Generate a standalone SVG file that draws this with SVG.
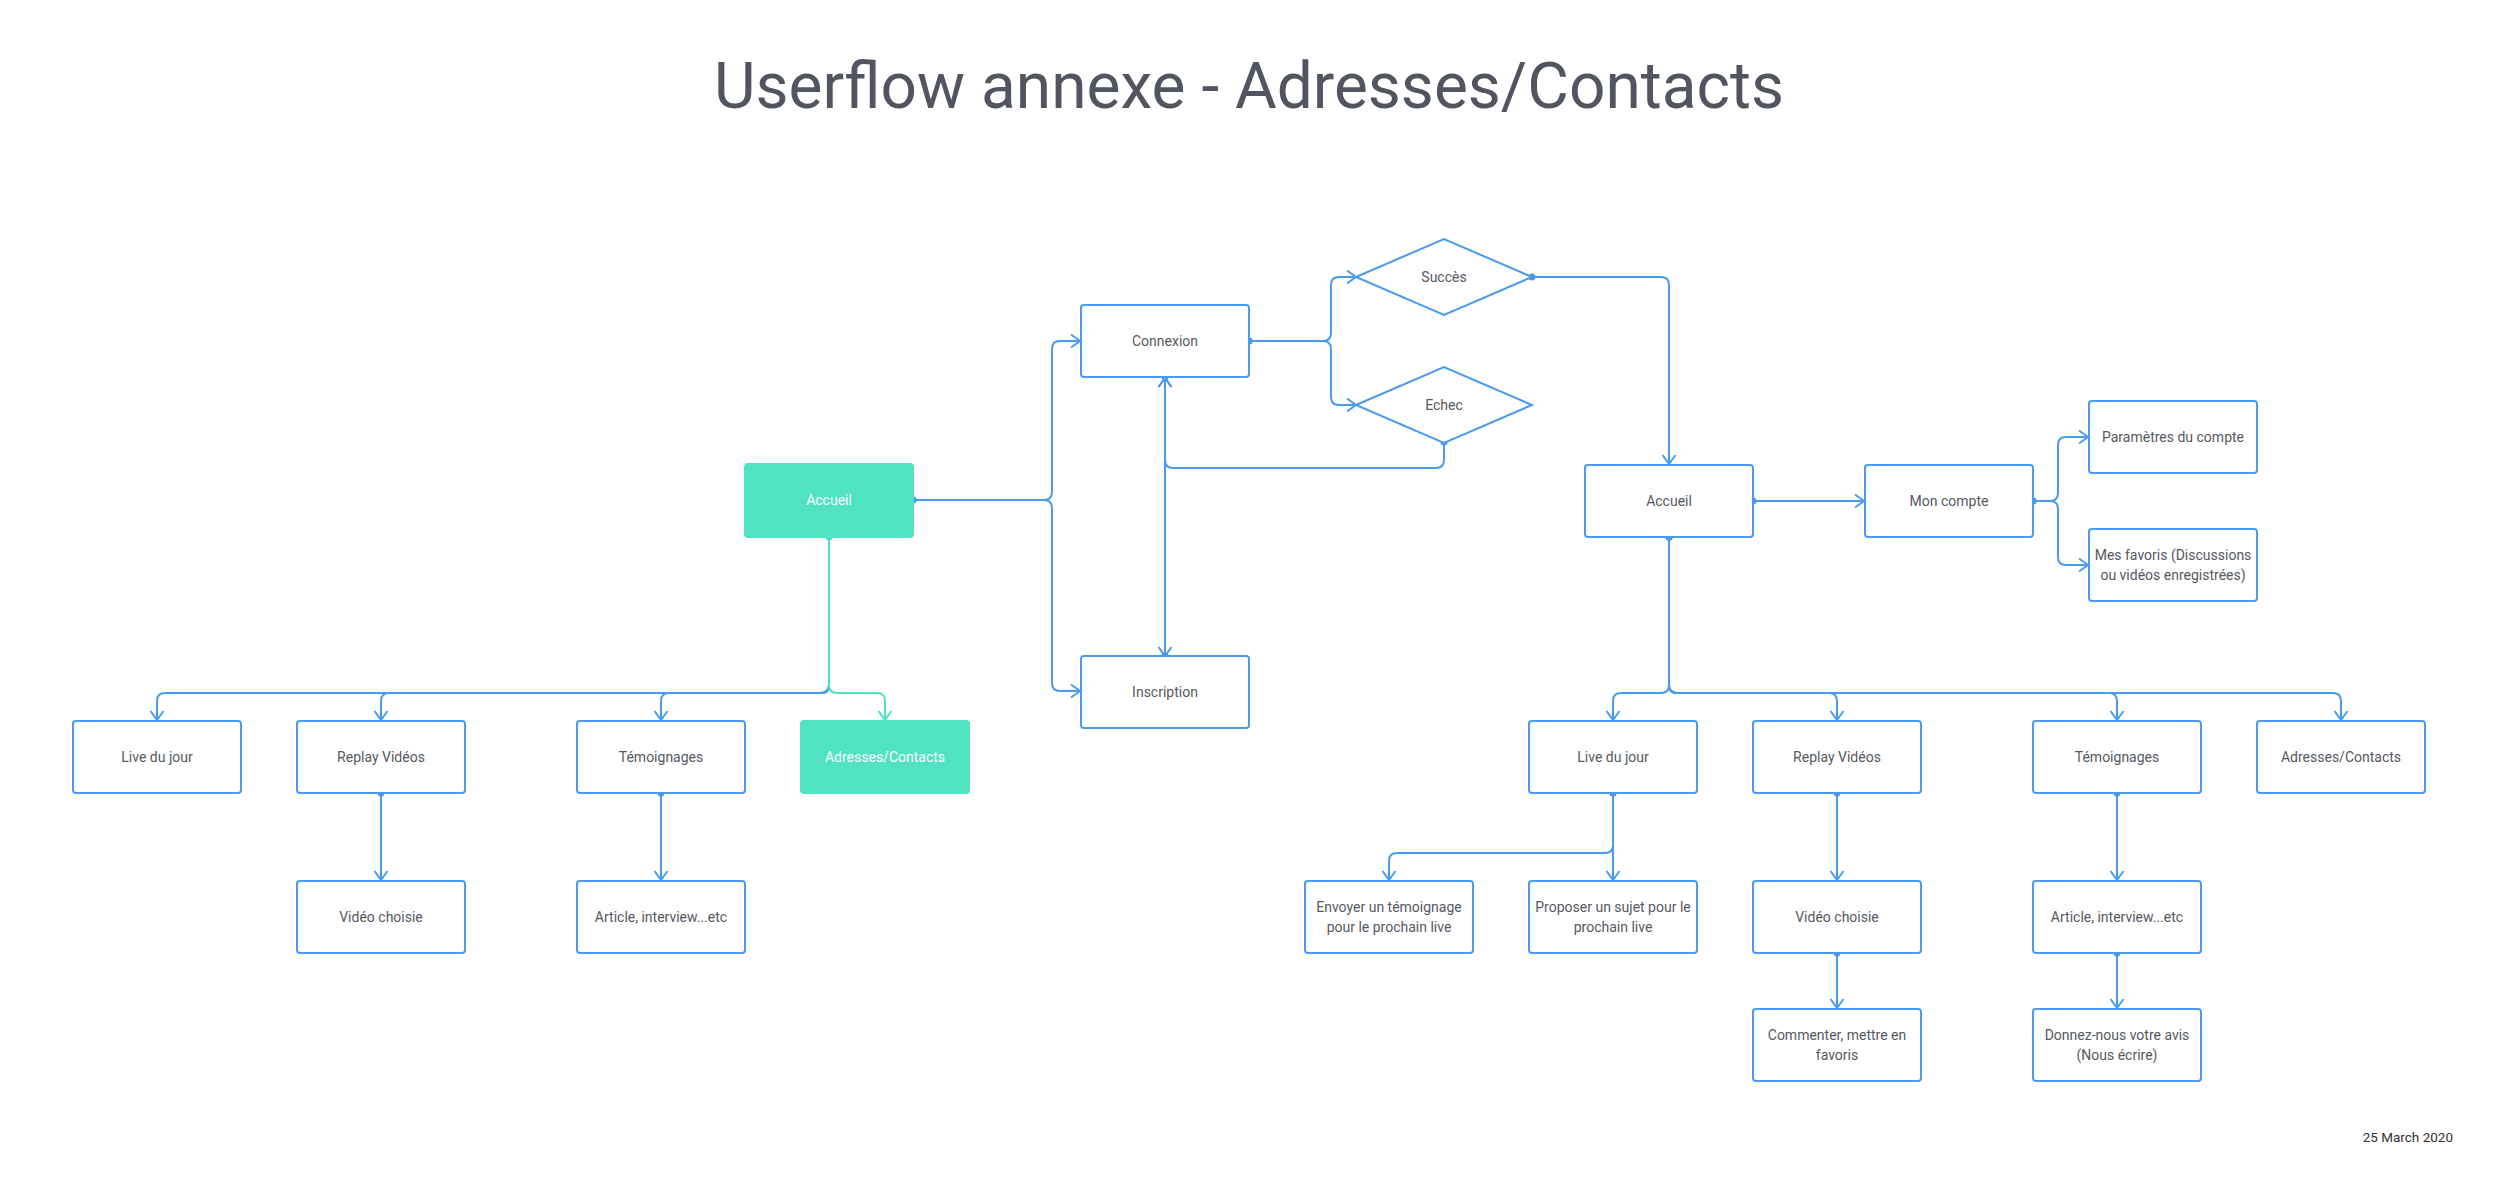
<svg xmlns="http://www.w3.org/2000/svg" width="2498" height="1202" viewBox="0 0 2498 1202">
<style>
.box{fill:#ffffff;stroke:#4A9BEF;stroke-width:2}
.teal{fill:#50E3C2;stroke:#50E3C2;stroke-width:2}
.t{font-family:Roboto,"Liberation Sans",sans-serif;font-size:14px;fill:#55595f;text-anchor:middle}
.w{fill:#ffffff}
.c{fill:none;stroke:#4A9BEF;stroke-width:2;marker-start:url(#dot);marker-end:url(#arr)}
.cn{fill:none;stroke:#4A9BEF;stroke-width:2;marker-end:url(#arr)}
.ct{fill:none;stroke:#50E3C2;stroke-width:2;marker-start:url(#dott);marker-end:url(#arrt)}
</style>
<defs>
<marker id="arr" markerUnits="userSpaceOnUse" markerWidth="20" markerHeight="20" refX="0" refY="0" viewBox="-12 -10 14 20" orient="auto" overflow="visible"><path d="M-9,-6.5 L0,0 L-9,6.5" fill="none" stroke="#4A9BEF" stroke-width="2"/></marker>
<marker id="arrt" markerUnits="userSpaceOnUse" markerWidth="20" markerHeight="20" refX="0" refY="0" viewBox="-12 -10 14 20" orient="auto" overflow="visible"><path d="M-9,-6.5 L0,0 L-9,6.5" fill="none" stroke="#50E3C2" stroke-width="2"/></marker>
<marker id="dot" markerUnits="userSpaceOnUse" markerWidth="10" markerHeight="10" refX="0" refY="0" viewBox="-5 -5 10 10" overflow="visible"><circle r="3.5" fill="#4A9BEF"/></marker>
<marker id="dott" markerUnits="userSpaceOnUse" markerWidth="10" markerHeight="10" refX="0" refY="0" viewBox="-5 -5 10 10" overflow="visible"><circle r="3.5" fill="#50E3C2"/></marker>
</defs>
<rect width="2498" height="1202" fill="#ffffff"/>
<text x="1249" y="108" style="font-family:Roboto,'Liberation Sans',sans-serif;font-size:64px;fill:#50555f;text-anchor:middle">Userflow annexe - Adresses/Contacts</text>
<text x="2453" y="1142" style="font-family:Roboto,'Liberation Sans',sans-serif;font-size:13.5px;fill:#333333;text-anchor:end">25 March 2020</text>

<g id="connectors">
<path class="c" d="M913,500 H1044 Q1052,500 1052,492 V349 Q1052,341 1060,341 H1080"/>
<path class="c" d="M913,500 H1044 Q1052,500 1052,508 V683 Q1052,691 1060,691 H1080"/>
<path class="c" d="M1249,341 H1323 Q1331,341 1331,333 V285 Q1331,277 1339,277 H1356"/>
<path class="c" d="M1249,341 H1323 Q1331,341 1331,349 V397 Q1331,405 1339,405 H1356"/>
<path class="c" d="M1444,442 V460 Q1444,468 1436,468 H1173 Q1165,468 1165,460 V378"/>
<path class="c" d="M1165,656 V378"/>
<path class="c" d="M1165,377 V656"/>
<path class="c" d="M1532,277 H1661 Q1669,277 1669,285 V464"/>
<path class="c" d="M1753,501 H1864"/>
<path class="c" d="M2033,501 H2050 Q2058,501 2058,493 V445 Q2058,437 2066,437 H2088"/>
<path class="c" d="M2033,501 H2050 Q2058,501 2058,509 V557 Q2058,565 2066,565 H2088"/>
<path class="c" d="M1669,537 V685 Q1669,693 1661,693 H1621 Q1613,693 1613,701 V720"/>
<path class="c" d="M1669,537 V685 Q1669,693 1677,693 H1829 Q1837,693 1837,701 V720"/>
<path class="c" d="M1669,537 V685 Q1669,693 1677,693 H2109 Q2117,693 2117,701 V720"/>
<path class="c" d="M1669,537 V685 Q1669,693 1677,693 H2333 Q2341,693 2341,701 V720"/>
<path class="c" d="M1613,793 V880"/>
<path class="c" d="M1613,793 V845 Q1613,853 1605,853 H1397 Q1389,853 1389,861 V880"/>
<path class="c" d="M1837,793 V880"/>
<path class="c" d="M2117,793 V880"/>
<path class="c" d="M1837,953 V1008"/>
<path class="c" d="M2117,953 V1008"/>
<path class="cn" d="M829,685 Q829,693 821,693 H165 Q157,693 157,701 V720"/>
<path class="cn" d="M829,685 Q829,693 821,693 H389 Q381,693 381,701 V720"/>
<path class="cn" d="M829,685 Q829,693 821,693 H669 Q661,693 661,701 V720"/>
<path class="ct" d="M829,537 V685 Q829,693 837,693 H877 Q885,693 885,701 V720"/>
<path class="c" d="M381,793 V880"/>
<path class="c" d="M661,793 V880"/>
</g>

<g id="accueil-left"><rect class="teal" x="745" y="464" width="168" height="73" rx="3"/><text class="t w" x="829" y="505">Accueil</text></g>
<g id="connexion"><rect class="box" x="1081" y="305" width="168" height="72" rx="3"/><text class="t" x="1165" y="346">Connexion</text></g>
<g id="inscription"><rect class="box" x="1081" y="656" width="168" height="72" rx="3"/><text class="t" x="1165" y="697">Inscription</text></g>
<g id="succes"><polygon class="box" points="1356,277 1444,239 1532,277 1444,315"/><text class="t" x="1444" y="282">Succès</text></g>
<g id="echec"><polygon class="box" points="1356,405 1444,367 1532,405 1444,443"/><text class="t" x="1444" y="410">Echec</text></g>
<g id="accueil-right"><rect class="box" x="1585" y="465" width="168" height="72" rx="3"/><text class="t" x="1669" y="506">Accueil</text></g>
<g id="mon-compte"><rect class="box" x="1865" y="465" width="168" height="72" rx="3"/><text class="t" x="1949" y="506">Mon compte</text></g>
<g id="parametres"><rect class="box" x="2089" y="401" width="168" height="72" rx="3"/><text class="t" x="2173" y="442">Paramètres du compte</text></g>
<g id="favoris"><rect class="box" x="2089" y="529" width="168" height="72" rx="3"/><text class="t" x="2173" y="560">Mes favoris (Discussions</text><text class="t" x="2173" y="580">ou vidéos enregistrées)</text></g>

<g id="live-left"><rect class="box" x="73" y="721" width="168" height="72" rx="3"/><text class="t" x="157" y="762">Live du jour</text></g>
<g id="replay-left"><rect class="box" x="297" y="721" width="168" height="72" rx="3"/><text class="t" x="381" y="762">Replay Vidéos</text></g>
<g id="temoignages-left"><rect class="box" x="577" y="721" width="168" height="72" rx="3"/><text class="t" x="661" y="762">Témoignages</text></g>
<g id="adresses-left"><rect class="teal" x="801" y="721" width="168" height="72" rx="3"/><text class="t w" x="885" y="762">Adresses/Contacts</text></g>
<g id="video-left"><rect class="box" x="297" y="881" width="168" height="72" rx="3"/><text class="t" x="381" y="922">Vidéo choisie</text></g>
<g id="article-left"><rect class="box" x="577" y="881" width="168" height="72" rx="3"/><text class="t" x="661" y="922">Article, interview...etc</text></g>

<g id="live-right"><rect class="box" x="1529" y="721" width="168" height="72" rx="3"/><text class="t" x="1613" y="762">Live du jour</text></g>
<g id="replay-right"><rect class="box" x="1753" y="721" width="168" height="72" rx="3"/><text class="t" x="1837" y="762">Replay Vidéos</text></g>
<g id="temoignages-right"><rect class="box" x="2033" y="721" width="168" height="72" rx="3"/><text class="t" x="2117" y="762">Témoignages</text></g>
<g id="adresses-right"><rect class="box" x="2257" y="721" width="168" height="72" rx="3"/><text class="t" x="2341" y="762">Adresses/Contacts</text></g>
<g id="envoyer"><rect class="box" x="1305" y="881" width="168" height="72" rx="3"/><text class="t" x="1389" y="912">Envoyer un témoignage</text><text class="t" x="1389" y="932">pour le prochain live</text></g>
<g id="proposer"><rect class="box" x="1529" y="881" width="168" height="72" rx="3"/><text class="t" x="1613" y="912">Proposer un sujet pour le</text><text class="t" x="1613" y="932">prochain live</text></g>
<g id="video-right"><rect class="box" x="1753" y="881" width="168" height="72" rx="3"/><text class="t" x="1837" y="922">Vidéo choisie</text></g>
<g id="article-right"><rect class="box" x="2033" y="881" width="168" height="72" rx="3"/><text class="t" x="2117" y="922">Article, interview...etc</text></g>
<g id="commenter"><rect class="box" x="1753" y="1009" width="168" height="72" rx="3"/><text class="t" x="1837" y="1040">Commenter, mettre en</text><text class="t" x="1837" y="1060">favoris</text></g>
<g id="donnez"><rect class="box" x="2033" y="1009" width="168" height="72" rx="3"/><text class="t" x="2117" y="1040">Donnez-nous votre avis</text><text class="t" x="2117" y="1060">(Nous écrire)</text></g>
</svg>
